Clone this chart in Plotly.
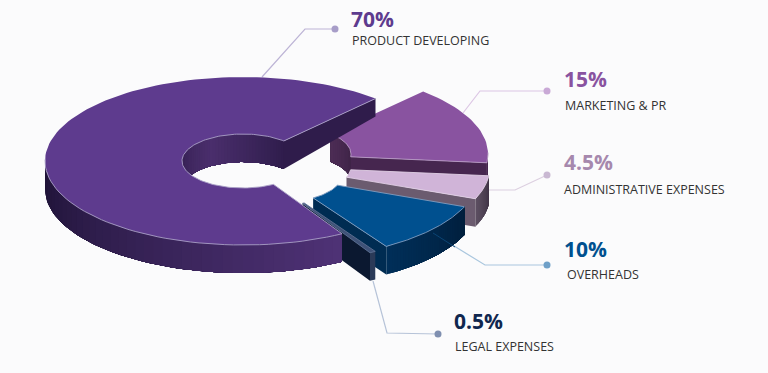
import math
import plotly.graph_objects as go

# --- data -------------------------------------------------------------
NAMES = ["PRODUCT DEVELOPING", "LEGAL EXPENSES", "OVERHEADS", "ADMINISTRATIVE EXPENSES", "MARKETING & PR"]
VALUES = [70, 0.5, 10, 4.5, 15]
PCT_LABELS = ["70%", "0.5%", "10%", "4.5%", "15%"]

# --- styling / geometry ----------------------------------------------
BG = "#fbfbfc"
START = 48.0
RXS = [198.0, 196.0, 196.0, 196.0, 196.0]
RY = 84.0
IRX, IRY = 61.0, 27.0
DEPTH = 28.0
CENTERS = [(243, 161), (272, 180), (283, 175), (294, 167), (292, 154)]
HOLE_DX = [0, 0, -2, -4, -2]
TOP = ["#5e3b8e", "#3f5278", "#00508f", "#d0b4d8", "#8953a0"]
EDGE = ["#a99fc6", "#5f7192", "#7f9cc0", "#e0cfe4", "#b79ac4"]
PCT_COL = ["#5e3b8e", "#10274f", "#00508f", "#a688ad", "#8953a0"]
CUT = ["#2f1c4b", "#0b1830", "#002c52", "#6b5b6f", "#46264f"]
OUTER_GRAD = [("#1d1235", "#4f3276"), ("#2b3a58", "#2b3a58"), ("#002f59", "#001f3d"),
              ("#5d5062", "#3f3345"), ("#46264f", "#46264f")]
HOLE_GRAD = ["#2e1c4a", "#4a2e6c", "#2f1d4c"]
MK_HOLE = ("#3a2142", "#4c2c55")

# order in which the wedges are painted, back to front
PAINT = [4, 3, 2, 1, 0]
LEADERS = [
    ([(262, 77), (305, 29), (335, 29)], "#bdb4d6", "#a79dc8"),
    ([(463, 113), (480, 91), (547, 91)], "#dcc6e4", "#c9a9d6"),
    ([(488, 190), (515, 190), (547, 175)], "#dccfe0", "#c9b8d2"),
    ([(433, 233), (485, 265), (547, 265)], "#a9c6de", "#6fa0c8"),
    ([(373, 281), (387, 333), (438, 334)], "#b6c3d8", "#7f8fb0"),
]
TEXT_POS = [(349, 19, 350, 40), (452, 321, 453, 346), (562, 249, 565, 274),
            (562, 162, 562, 189), (562, 79, 563, 105)]


def lerp(a, b, t):
    pa = [int(a[i:i + 2], 16) for i in (1, 3, 5)]
    pb = [int(b[i:i + 2], 16) for i in (1, 3, 5)]
    return "#%02x%02x%02x" % tuple(round(p + (q - p) * t) for p, q in zip(pa, pb))


def pt(c, rx, ry, deg, dy=0.0):
    r = math.radians(deg)
    return c[0] + rx * math.cos(r), c[1] - ry * math.sin(r) + dy


def arc(c, rx, ry, a0, a1, dy=0.0, step=2.0):
    n = max(2, int(abs(a1 - a0) / step) + 1)
    return [pt(c, rx, ry, a0 + (a1 - a0) * i / (n - 1), dy) for i in range(n)]


fig = go.Figure()


def poly(points, color):
    fig.add_trace(go.Scatter(
        x=[p[0] for p in points] + [points[0][0]],
        y=[p[1] for p in points] + [points[0][1]],
        mode="lines", fill="toself", fillcolor=color,
        line=dict(width=0), hoverinfo="skip", showlegend=False))


def stroke(points, color, width=0.9):
    fig.add_trace(go.Scatter(
        x=[p[0] if p else None for p in points], y=[p[1] if p else None for p in points],
        mode="lines", line=dict(color=color, width=width), hoverinfo="skip", showlegend=False))


def wall_band(c, rx, ry, a0, a1, stops, depth=DEPTH, step=3.0):
    """Each slice runs on to the far end of the arc, so later slices overpaint it with no seams."""
    n = max(1, int(abs(a1 - a0) / step))
    for i in range(n):
        s = a0 + (a1 - a0) * i / n
        t = (i + 0.5) / n * (len(stops) - 1)
        k = min(int(t), len(stops) - 2)
        col = lerp(stops[k], stops[k + 1], t - k)
        top = arc(c, rx, ry, s, a1)
        poly(top + [(x, y + depth) for x, y in reversed(top)], col)


def cut(c, ci, rx, ang, color, depth_out=DEPTH):
    po, pi = pt(c, rx, RY, ang), pt(ci, IRX, IRY, ang)
    poly([pi, po, (po[0], po[1] + depth_out), (pi[0], pi[1] + DEPTH)], color)


# leader lines sit behind the wedges
for pts, lc, mc in LEADERS:
    fig.add_trace(go.Scatter(x=[p[0] for p in pts], y=[p[1] for p in pts], mode="lines",
                             line=dict(color=lc, width=1.2), hoverinfo="skip", showlegend=False))
    fig.add_trace(go.Scatter(x=[pts[-1][0]], y=[pts[-1][1]], mode="markers",
                             marker=dict(color=mc, size=7), hoverinfo="skip", showlegend=False))

# angular span of each wedge follows directly from the values
total = sum(VALUES)
spans = []
a = START
for v in VALUES:
    b = a + v / total * 360.0
    spans.append((a, b))
    a = b

for idx in PAINT:
    c = CENTERS[idx]
    rx = RXS[idx]
    ci = (c[0] + HOLE_DX[idx], c[1])
    a0, a1 = spans[idx]

    # inner (hole) wall
    if idx == 0:
        wall_band(ci, IRX, IRY, 195, a0, HOLE_GRAD)
        cut(c, ci, rx, a0, CUT[idx], depth_out=18)
    elif idx == 4:
        wall_band(ci, IRX, IRY, a0, a1, list(MK_HOLE))
        cut(c, ci, rx, a0, CUT[idx])
    else:
        cut(c, ci, rx, a0, CUT[idx])
    # outer wall (only its front half shows)
    if idx == 0:
        wall_band(c, rx, RY, 180, a1, list(OUTER_GRAD[idx]))
    elif idx == 4:
        wall_band(c, rx, RY, a0, 360, list(OUTER_GRAD[idx]))
    else:
        wall_band(c, rx, RY, a0, a1, list(OUTER_GRAD[idx]), step=1.0)
    # top face
    outer = arc(c, rx, RY, a0, a1)
    inner = arc(ci, IRX, IRY, a1, a0)
    poly(outer + inner, TOP[idx])
    # light rim, leaving out the far side of the outer arc
    rim = []
    for d in range(0, 101):
        ang = a0 + (a1 - a0) * d / 100
        rim.append(None if math.sin(math.radians(ang)) > 0.02 else pt(c, rx, RY, ang))
    rim += inner + [pt(c, rx, RY, a0)]
    stroke(rim, EDGE[idx])

# short darker stretch of the overheads leader over its own wall
fig.add_trace(go.Scatter(x=[433, 455], y=[233, 247], mode="lines",
                         line=dict(color="#0a4474", width=1), hoverinfo="skip", showlegend=False))

for i, (px, py, lx, ly) in enumerate(TEXT_POS):
    fig.add_annotation(x=px, y=py, text="<b>%s</b>" % PCT_LABELS[i], showarrow=False, xanchor="left",
                       yanchor="middle", font=dict(family="Open Sans", size=21, color=PCT_COL[i]))
    fig.add_annotation(x=lx, y=ly, text=NAMES[i], showarrow=False, xanchor="left", yanchor="middle",
                       font=dict(family="Open Sans", size=12.5, color="#333333"))

fig.update_layout(
    paper_bgcolor=BG, plot_bgcolor=BG,
    width=768, height=373, margin=dict(l=0, r=0, t=0, b=0), showlegend=False,
    xaxis=dict(range=[0, 768], visible=False, fixedrange=True),
    yaxis=dict(range=[373, 0], visible=False, fixedrange=True),
)
fig.write_html("out.html", config={"displayModeBar": False, "responsive": False},
               post_script="document.body.style.margin='0';document.body.style.overflow='hidden';document.body.style.background='%s';" % BG)
